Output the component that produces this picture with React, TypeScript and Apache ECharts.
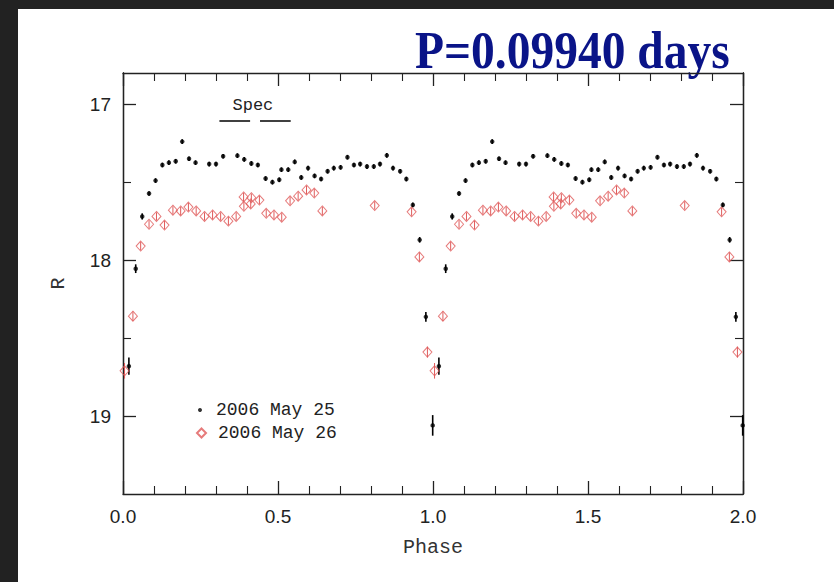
import React, { useEffect, useRef } from "react";
import * as echarts from "echarts";

// ---- data ----
const CYCLES = [0, 1]; // the folded light curve is plotted twice (phase and phase + 1)

const blackPhase = [0.019, 0.041, 0.062, 0.084, 0.105, 0.127, 0.148, 0.170, 0.191, 0.213, 0.234, 0.278, 0.300, 0.323, 0.369, 0.391, 0.414, 0.435, 0.460, 0.482, 0.504, 0.511, 0.533, 0.554, 0.575, 0.597, 0.618, 0.639, 0.660, 0.680, 0.702, 0.724, 0.745, 0.765, 0.787, 0.809, 0.829, 0.851, 0.871, 0.894, 0.914, 0.935, 0.957, 0.977, 0.999];
const blackMag = [18.68, 18.055, 17.72, 17.573, 17.49, 17.39, 17.375, 17.366, 17.24, 17.35, 17.375, 17.384, 17.384, 17.334, 17.33, 17.354, 17.38, 17.39, 17.477, 17.50, 17.485, 17.42, 17.42, 17.37, 17.47, 17.41, 17.46, 17.48, 17.43, 17.41, 17.405, 17.34, 17.39, 17.384, 17.40, 17.40, 17.384, 17.328, 17.41, 17.43, 17.48, 17.646, 17.87, 18.364, 19.06];
const blackErr = [0.055, 0.028, 0.02, 0.015, 0.015, 0.015, 0.015, 0.015, 0.015, 0.015, 0.015, 0.015, 0.015, 0.015, 0.015, 0.015, 0.015, 0.015, 0.015, 0.015, 0.015, 0.015, 0.015, 0.015, 0.015, 0.015, 0.015, 0.015, 0.015, 0.015, 0.015, 0.015, 0.015, 0.015, 0.015, 0.015, 0.015, 0.015, 0.015, 0.015, 0.015, 0.015, 0.018, 0.032, 0.066];

const redPhase = [0.005, 0.032, 0.057, 0.084, 0.108, 0.134, 0.161, 0.186, 0.211, 0.236, 0.263, 0.289, 0.315, 0.340, 0.365, 0.389, 0.390, 0.412, 0.414, 0.440, 0.462, 0.487, 0.512, 0.539, 0.565, 0.592, 0.617, 0.643, 0.812, 0.931, 0.956, 0.982];
const redMag = [18.71, 18.36, 17.91, 17.77, 17.72, 17.775, 17.68, 17.685, 17.66, 17.685, 17.72, 17.71, 17.72, 17.75, 17.72, 17.595, 17.655, 17.64, 17.60, 17.615, 17.70, 17.71, 17.725, 17.62, 17.59, 17.55, 17.57, 17.685, 17.65, 17.69, 17.98, 18.59];
const redErr = [0.05, 0.03, 0.026, 0.026, 0.026, 0.026, 0.026, 0.026, 0.026, 0.026, 0.026, 0.026, 0.026, 0.026, 0.026, 0.026, 0.026, 0.026, 0.026, 0.026, 0.026, 0.026, 0.026, 0.026, 0.026, 0.026, 0.026, 0.026, 0.026, 0.026, 0.028, 0.035];

const seriesNames = ["2006 May 25", "2006 May 26"];
const titleText = "P=0.09940 days";
const xLabel = "Phase";
const yLabel = "R";
const yMajorTicks = [17, 18, 19];
const yMinorTicks = [17.5, 18.5];
const specText = "Spec";
const specSegments = [
  [0.311, 0.41],
  [0.442, 0.541],
];
const specLevel = 17.104;
const specTextPos = [0.419, 17.006];

const X_MIN = 0;
const X_MAX = 2;
const Y_MIN = 16.8;
const Y_MAX = 19.5;

const RED = "#e05a5a";
const AXIS = "#222";

function fold(phase: number[], mag: number[], err: number[]) {
  return CYCLES.flatMap((c) => phase.map((p, i) => [p + c, mag[i], err[i]]));
}

function errRender(color: string, width: number) {
  return (params: any, api: any) => {
    const x = api.value(0);
    const y = api.value(1);
    const e = api.value(2);
    const p1 = api.coord([x, y - e]);
    const p2 = api.coord([x, y + e]);
    return {
      type: "line",
      shape: { x1: p1[0], y1: p1[1], x2: p2[0], y2: p2[1] },
      style: { stroke: color, lineWidth: width },
    };
  };
}

export default function App() {
  const ref = useRef<HTMLDivElement>(null);

  useEffect(() => {
    if (!ref.current) return;
    const chart = echarts.init(ref.current, null, { renderer: "svg" });
    const black = fold(blackPhase, blackMag, blackErr);
    const red = fold(redPhase, redMag, redErr);

    const xBase = {
      type: "value",
      min: X_MIN,
      max: X_MAX,
      interval: 0.5,
      axisLine: { show: true, onZero: false, lineStyle: { color: AXIS, width: 1.3 } },
      axisTick: { show: true, inside: true, length: 13, lineStyle: { color: AXIS, width: 1.3 } },
      minorTick: { show: true, splitNumber: 5, length: 8, lineStyle: { color: AXIS, width: 1.1 } },
      splitLine: { show: false },
      minorSplitLine: { show: false },
    };
    const yBase = {
      type: "value",
      min: Y_MIN,
      max: Y_MAX,
      inverse: true,
      axisLine: { show: true, onZero: false, lineStyle: { color: AXIS, width: 1.3 } },
      splitLine: { show: false },
    };

    const option: any = {
      animation: false,
      backgroundColor: "#ffffff",
      grid: { left: 123, right: 91, top: 73, bottom: 88, containLabel: false },
      xAxis: [
        {
          ...xBase,
          position: "bottom",
          name: xLabel,
          nameLocation: "middle",
          nameGap: 43,
          nameTextStyle: { fontFamily: "Liberation Mono", fontSize: 20, color: "#333" },
          axisLabel: {
            show: true,
            margin: 13,
            formatter: (v: number) => v.toFixed(1),
            fontFamily: "Liberation Sans",
            fontSize: 19,
            color: "#222",
          },
        },
        { ...xBase, position: "top", axisLabel: { show: false } },
      ],
      yAxis: [
        {
          ...yBase,
          position: "left",
          name: yLabel,
          nameLocation: "middle",
          nameRotate: 90,
          nameGap: 55,
          nameTextStyle: { fontFamily: "Liberation Mono", fontSize: 20, color: "#333" },
          axisTick: { show: true, inside: true, length: 13, customValues: yMajorTicks, lineStyle: { color: AXIS, width: 1.3 } },
          axisLabel: {
            show: true,
            customValues: yMajorTicks,
            margin: 12,
            fontFamily: "Liberation Sans",
            fontSize: 19,
            color: "#222",
          },
        },
        {
          ...yBase,
          position: "left",
          axisTick: { show: true, inside: true, length: 8, customValues: yMinorTicks, lineStyle: { color: AXIS, width: 1.1 } },
          axisLabel: { show: false },
        },
        {
          ...yBase,
          position: "right",
          axisTick: { show: true, inside: true, length: 13, customValues: yMajorTicks, lineStyle: { color: AXIS, width: 1.3 } },
          axisLabel: { show: false },
        },
        {
          ...yBase,
          position: "right",
          axisTick: { show: true, inside: true, length: 8, customValues: yMinorTicks, lineStyle: { color: AXIS, width: 1.1 } },
          axisLabel: { show: false },
        },
      ],
      legend: [
        {
          data: [{ name: seriesNames[0] }],
          left: 198,
          top: 401,
          padding: 0,
          itemWidth: 4,
          itemHeight: 4,
          selectedMode: false,
          textStyle: { fontFamily: "Liberation Mono", fontSize: 18, color: "#222", lineHeight: 18, padding: [0, 0, 0, 9] },
        },
        {
          data: [{ name: seriesNames[1] }],
          left: 196,
          top: 424,
          padding: 0,
          itemWidth: 9,
          itemHeight: 9,
          selectedMode: false,
          textStyle: { fontFamily: "Liberation Mono", fontSize: 18, color: "#222", lineHeight: 18, padding: [0, 0, 0, 7] },
        },
      ],
      graphic: [
        {
          type: "text",
          x: 415,
          y: 51,
          scaleX: 0.95,
          scaleY: 1.04,
          style: {
            text: titleText,
            font: 'bold 50px "Liberation Serif"',
            fill: "#0a1488",
            textAlign: "left",
            textVerticalAlign: "middle",
          },
        },
      ],
      series: [
        {
          type: "custom",
          name: "redErr",
          xAxisIndex: 0,
          yAxisIndex: 0,
          renderItem: errRender(RED, 1),
          encode: { x: 0, y: 1 },
          data: red,
          silent: true,
        },
        {
          type: "scatter",
          name: seriesNames[1],
          xAxisIndex: 0,
          yAxisIndex: 0,
          symbol: "diamond",
          symbolSize: [9, 10],
          itemStyle: { color: "rgba(255,255,255,0)", borderColor: RED, borderWidth: 1 },
          data: red.map((d) => [d[0], d[1]]),
        },
        {
          type: "custom",
          name: "blackErr",
          xAxisIndex: 0,
          yAxisIndex: 0,
          renderItem: errRender("#000", 1.6),
          encode: { x: 0, y: 1 },
          data: black,
          silent: true,
        },
        {
          type: "scatter",
          name: seriesNames[0],
          xAxisIndex: 0,
          yAxisIndex: 0,
          symbol: "circle",
          symbolSize: 4.5,
          itemStyle: { color: "#000" },
          data: black.map((d) => [d[0], d[1]]),
          markLine: {
            silent: true,
            symbol: "none",
            label: { show: false },
            lineStyle: { color: "#000", width: 1.5, type: "solid" },
            data: specSegments.map((s) => [{ coord: [s[0], specLevel] }, { coord: [s[1], specLevel] }]),
          },
          markPoint: {
            silent: true,
            symbol: "circle",
            symbolSize: 0,
            label: {
              show: true,
              position: "inside",
              formatter: specText,
              fontFamily: "Liberation Mono",
              fontSize: 17,
              color: "#222",
            },
            data: [{ coord: specTextPos }],
          },
        },
      ],
    };

    chart.setOption(option);
    return () => chart.dispose();
  }, []);

  return (
    <div style={{ position: "fixed", left: 0, top: 0, width: 834, height: 582, background: "#fff" }}>
      <div ref={ref} style={{ position: "absolute", left: 0, top: 0, width: 834, height: 582 }} />
      <div style={{ position: "absolute", left: 0, top: 0, width: 834, height: 9, background: "#222", pointerEvents: "none" }} />
      <div style={{ position: "absolute", left: 0, top: 0, width: 18, height: 582, background: "#222", pointerEvents: "none" }} />
    </div>
  );
}
